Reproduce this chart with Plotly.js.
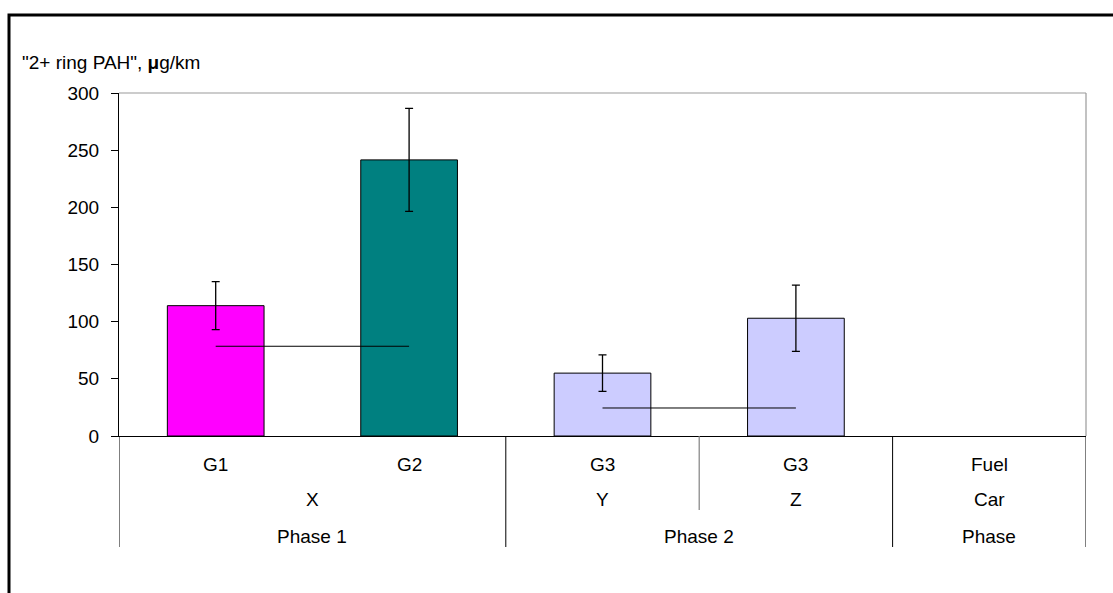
<!DOCTYPE html>
<html>
<head>
<meta charset="utf-8">
<script src="https://cdn.plot.ly/plotly-3.0.1.min.js"></script>
<style>html,body{margin:0;padding:0;background:#fff;}#chart{width:1113px;height:593px;}</style>
</head>
<body>
<div id="chart"></div>
<script>
// Data
const categories = [0, 1, 2, 3, 4];
const level1 = ["G1", "G2", "G3", "G3", "Fuel"];
const level2 = ["X", "X", "Y", "Z", "Car"];
const level3 = ["Phase 1", "Phase 1", "Phase 2", "Phase 2", "Phase"];
const level2Groups = [{label: "X", from: 0, to: 1}, {label: "Y", from: 2, to: 2}, {label: "Z", from: 3, to: 3}, {label: "Car", from: 4, to: 4}];
const level3Groups = [{label: "Phase 1", from: 0, to: 1}, {label: "Phase 2", from: 2, to: 3}, {label: "Phase", from: 4, to: 4}];
const barValues = [114, 241.5, 55, 103, null];
const errValues = [21, 45, 16, 29, 0];
const barColors = ["#FF00FF", "#008080", "#CCCCFF", "#CCCCFF", "#CCCCFF"];
const meanPhase1 = [78.5, 78.5, null, null, null];
const meanPhase2 = [null, null, 24.5, 24.5, null];
const yTicks = [0, 50, 100, 150, 200, 250, 300];

const font = "Liberation Sans, Arial, sans-serif";
const fs = 19;

const traces = [
  {
    type: "bar", x: categories, y: barValues, width: 0.5,
    marker: {color: barColors, line: {color: "#000000", width: 1}},
    error_y: {type: "data", array: errValues, visible: true, color: "#000000", thickness: 1.3, width: 4},
    hoverinfo: "skip"
  },
  {type: "scatter", mode: "lines", x: categories, y: meanPhase1, line: {color: "#000000", width: 1}, hoverinfo: "skip"},
  {type: "scatter", mode: "lines", x: categories, y: meanPhase2, line: {color: "#000000", width: 1}, hoverinfo: "skip"}
];

const plotH = 593 - 93 - 157;
const plotW = 1113 - 119 - 27;
const annotations = [];
level1.forEach((t, i) => annotations.push({
  x: categories[i], y: 0, xref: "x", yref: "paper", text: t, showarrow: false,
  yanchor: "middle", yshift: -28, font: {family: font, size: fs, color: "#000"}
}));
level2Groups.forEach(g => annotations.push({
  x: (g.from + g.to) / 2, y: 0, xref: "x", yref: "paper", text: g.label, showarrow: false,
  yanchor: "middle", yshift: -63, font: {family: font, size: fs, color: "#000"}
}));
level3Groups.forEach(g => annotations.push({
  x: (g.from + g.to) / 2, y: 0, xref: "x", yref: "paper", text: g.label, showarrow: false,
  yanchor: "middle", yshift: -100, font: {family: font, size: fs, color: "#000"}
}));
annotations.push({
  x: (20 - 119) / plotW, y: (593 - 157 - 62) / plotH, xref: "paper", yref: "paper",
  text: '"2+ ring PAH", <b>\u03bc</b>g/km', showarrow: false,
  font: {family: font, size: fs, color: "#000"}, xanchor: "left", yanchor: "middle"
});

const shapes = [];
const fullDrop = -111 / plotH;
const partDrop = -74 / plotH;
const boundaries = [-0.5, 1.5, 3.5, 4.5];
boundaries.forEach(b => shapes.push({type: "line", xref: "x", yref: "paper", x0: b, x1: b, y0: 0, y1: fullDrop, line: {color: "#000", width: 1}}));
shapes.push({type: "line", xref: "x", yref: "paper", x0: 2.5, x1: 2.5, y0: 0, y1: partDrop, line: {color: "#808080", width: 1.2}});
shapes.push({type: "line", xref: "paper", yref: "paper", x0: 0, x1: 1, y0: 1, y1: 1, line: {color: "#999", width: 1.2}});
shapes.push({type: "line", xref: "paper", yref: "paper", x0: 1, x1: 1, y0: 0, y1: 1, line: {color: "#999", width: 1.2}});
shapes.push({type: "rect", xref: "paper", yref: "paper",
  x0: (9 - 119) / plotW, x1: (1130 - 119) / plotW,
  y0: (593 - 157 - 610) / plotH, y1: (593 - 157 - 15) / plotH,
  line: {color: "#000", width: 3}});

const layout = {
  width: 1113, height: 593,
  margin: {l: 119, r: 27, t: 93, b: 157},
  paper_bgcolor: "#fff", plot_bgcolor: "#fff",
  showlegend: false,
  font: {family: font, size: fs, color: "#000"},
  xaxis: {range: [-0.5, 4.5], showticklabels: false, showgrid: false, zeroline: false,
    showline: true, linecolor: "#000", linewidth: 1.3, ticks: "", fixedrange: true},
  yaxis: {range: [0, 300], tickvals: yTicks, showgrid: false, zeroline: false,
    showline: true, linecolor: "#000", linewidth: 1, ticks: "outside", ticklen: 7, tickcolor: "#000",
    tickfont: {family: font, size: fs, color: "#000"}, ticklabelstandoff: 8, fixedrange: true},
  annotations: annotations,
  shapes: shapes
};

Plotly.newPlot("chart", traces, layout, {displayModeBar: false, staticPlot: true});
</script>
</body>
</html>
